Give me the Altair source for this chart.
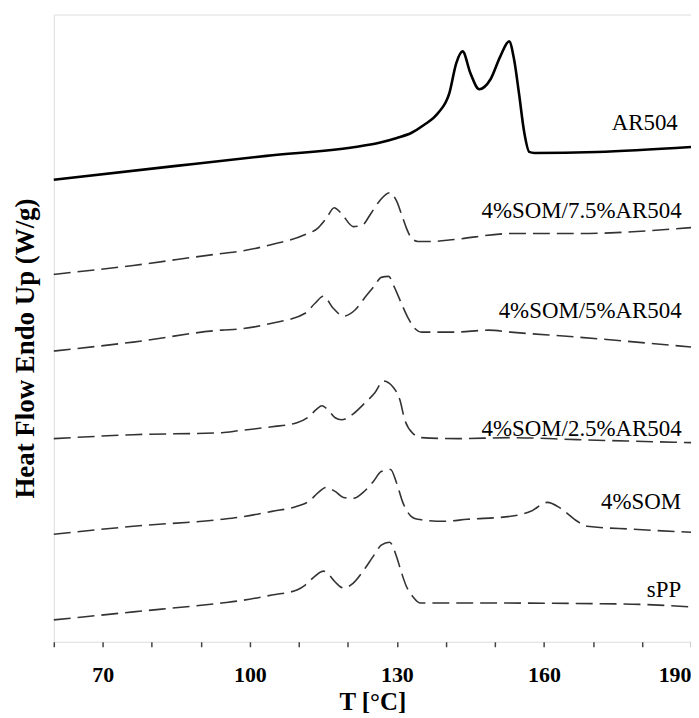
import altair as alt
import pandas as pd

# Temperature (°C) and heat flow (arbitrary offset units)
ar504_T = [60, 85, 103.4, 121.5, 126.2, 130, 132.9, 135.5, 138.4, 140.7, 142.1, 143.4, 145.0, 146.8,
           149.1, 151.1, 152.9, 153.9, 154.9, 156.0, 157.0, 158.0, 170.8, 190]
ar504_y = [464, 478, 488, 497, 501, 506, 511, 519, 531, 551, 581, 593, 571, 555,
           565, 588, 603, 585, 551, 511, 492, 491, 492, 497]

s75_T = [60, 76.2, 94.3, 97.7, 104.5, 111.3, 114.0, 115.7, 117.2, 118.7, 121.1, 122.8, 124.8, 126.5,
         128.5, 129.9, 130.9, 131.9, 132.9, 134.3, 136.9, 141.7, 153.2, 166.8, 190]
s75_y = [369, 378, 390, 392, 399, 409, 416, 426, 436, 430, 417, 418, 431, 443,
         451, 443, 430, 416, 406, 402, 402, 404, 410, 410, 416]

s5_T = [60, 76.2, 94.3, 97.7, 104.5, 111.3, 113.3, 115.0, 117.0, 119.1, 121.4, 123.5, 125.5, 126.8,
        128.3, 129.5, 130.9, 132.3, 133.6, 135.0, 141.7, 148.7, 153.2, 166.8, 190]
s5_y = [292, 301, 313, 314, 320, 330, 340, 347, 335, 327, 333, 346, 358, 366,
        367, 356, 340, 325, 315, 311, 311, 313, 311, 306, 296]

s25_T = [60, 76.2, 94.3, 97.7, 104.5, 109.6, 112.0, 113.7, 114.7, 115.7, 117.4, 118.7, 121.1, 123.5,
         125.5, 127.2, 129.2, 130.6, 131.6, 133.3, 135.0, 142.4, 153.2, 166.8, 190]
s25_y = [204, 208, 210, 212, 216, 220, 226, 234, 237, 234, 225, 223, 229, 240,
         250, 262, 256, 243, 223, 209, 205, 204, 205, 203, 200]

som_T = [60, 76.2, 94.3, 97.7, 104.5, 109.6, 112.0, 114.0, 115.5, 117.4, 119.1, 121.1, 123.1, 125.2,
         126.8, 128.7, 129.9, 131.2, 132.9, 134.2, 139.6, 144.4, 153.2, 157.3, 160.7, 163.4, 166.8,
         168.8, 178.3, 190]
som_y = [108, 116, 123, 125, 131, 136, 141, 150, 155, 151, 145, 144, 150, 161,
         171, 173, 160, 140, 126, 123, 121, 123, 126, 131, 140, 134, 121,
         116, 113, 110]

spp_T = [60, 76.2, 94.3, 97.7, 104.5, 109.6, 111.3, 113.3, 115.0, 116.0, 117.4, 119.1, 121.1, 123.1,
         125.2, 126.8, 128.5, 129.9, 130.9, 131.9, 133.3, 134.7, 142.4, 176.0, 190]
spp_y = [22, 30, 39, 41, 47, 52, 57, 66, 71, 68, 60, 54, 59, 71,
         86, 97, 100, 86, 70, 56, 45, 39, 39, 38, 35]

label_text = ["AR504", "4%SOM/7.5%AR504", "4%SOM/5%AR504", "4%SOM/2.5%AR504", "4%SOM", "sPP"]
label_T = [187.3, 188.1, 188.1, 188.1, 188.0, 188.0]
label_y = [521, 433, 332, 214, 140, 52]

tick_values = list(range(60, 191, 10))

solid = pd.DataFrame({"T": ar504_T, "H": ar504_y, "series": "AR504"})
dashed = pd.concat([
    pd.DataFrame({"T": s75_T, "H": s75_y, "series": "4%SOM/7.5%AR504"}),
    pd.DataFrame({"T": s5_T, "H": s5_y, "series": "4%SOM/5%AR504"}),
    pd.DataFrame({"T": s25_T, "H": s25_y, "series": "4%SOM/2.5%AR504"}),
    pd.DataFrame({"T": som_T, "H": som_y, "series": "4%SOM"}),
    pd.DataFrame({"T": spp_T, "H": spp_y, "series": "sPP"}),
])
labels = pd.DataFrame({"text": label_text, "T": label_T, "H": label_y})

FONT = "Liberation Serif"

x_enc = alt.X("T:Q", scale=alt.Scale(domain=[60, 190], nice=False, zero=False),
              axis=alt.Axis(values=tick_values, title="T [°C]",
                            labelExpr="(datum.value - 70) % 30 == 0 ? datum.label : ''",
                            labelFont=FONT, labelFontSize=22, labelFontWeight="bold",
                            labelColor="black", labelPadding=18,
                            tickSize=5, tickColor="#444", tickWidth=1.5,
                            domain=False, grid=False,
                            titleFont=FONT, titleFontSize=25, titleFontWeight="bold",
                            titleColor="black", titlePadding=4))
y_enc = alt.Y("H:Q", scale=alt.Scale(domain=[0, 630], nice=False, zero=False),
              axis=alt.Axis(title="Heat Flow Endo Up (W/g)", labels=False, ticks=False,
                            domain=False, grid=False,
                            titleFont=FONT, titleFontSize=27, titleFontWeight="bold",
                            titleColor="black", titlePadding=14, titleY=335))

solid_layer = alt.Chart(solid).mark_line(color="black", strokeWidth=2.6, interpolate="monotone").encode(
    x=x_enc, y=y_enc, detail="series:N")

dashed_layer = alt.Chart(dashed).mark_line(color="#333", strokeWidth=1.6, strokeDash=[17, 7],
                                          interpolate="monotone").encode(
    x="T:Q", y="H:Q", detail="series:N")

text_layer = alt.Chart(labels).mark_text(font=FONT, fontSize=23, align="right", baseline="middle",
                                         color="black").encode(
    x="T:Q", y="H:Q", text="text:N")

chart = alt.layer(solid_layer, dashed_layer, text_layer).properties(
    width=640, height=630,
    autosize=alt.AutoSizeParams(type="none"),
    padding={"left": 46, "top": 5, "right": 0, "bottom": 74},
).configure_view(stroke="#444", strokeWidth=2).configure(background="white")

chart.save("out.html", embed_options={"renderer": "svg", "actions": False})
